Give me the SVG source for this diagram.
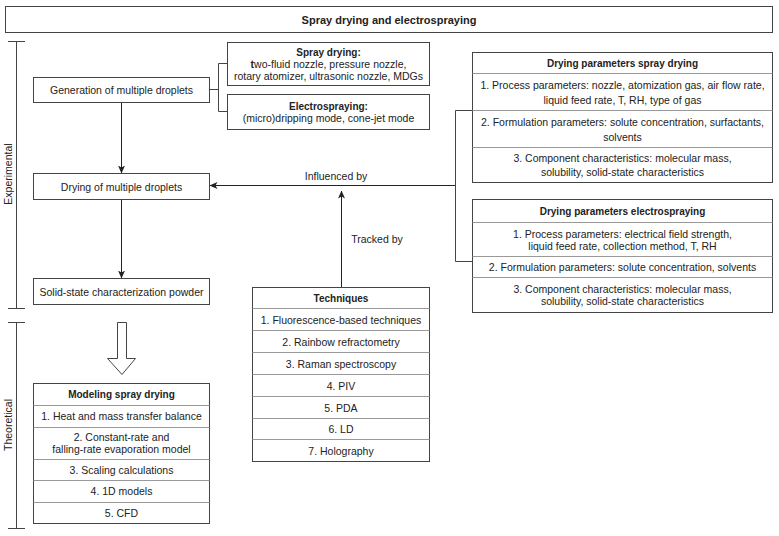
<svg xmlns="http://www.w3.org/2000/svg" width="779" height="536" viewBox="0 0 779 536">
<style>
text{font-family:"Liberation Sans",Arial,sans-serif;font-size:10.5px;fill:#222;text-anchor:middle;dominant-baseline:central}
.b{font-weight:bold;font-size:10px}
.t{font-weight:bold;font-size:11px}
.box{fill:#fff;stroke:#444;stroke-width:1}
.sep{stroke:#999;stroke-width:1;fill:none}
.ln{stroke:#222;stroke-width:1;fill:none}
.br{stroke:#444;stroke-width:1;fill:none}
</style>
<defs>
<marker id="ah" viewBox="0 0 8 8" refX="7.5" refY="4" markerWidth="8" markerHeight="8" markerUnits="userSpaceOnUse" orient="auto">
<path d="M0,0.5 L8,4 L0,7.5 L2,4 Z" fill="#222"/>
</marker>
</defs>
<rect width="779" height="536" fill="#fff"/>

<g id="title">
<rect class="box" x="5.5" y="6.5" width="767" height="26"/>
<text class="t" x="389" y="20">Spray drying and electrospraying</text>
</g>

<g id="experimental-bracket">
<path class="br" d="M16.5,41.5 V308.5 M8,41.5 H25 M8,308.5 H25"/>
<text transform="translate(8,174) rotate(-90)">Experimental</text>
</g>
<g id="theoretical-bracket">
<path class="br" d="M16.5,322.5 V528.5 M8,322.5 H25 M8,528.5 H25"/>
<text transform="translate(8,425) rotate(-90)">Theoretical</text>
</g>

<g id="connectors">
<path class="br" d="M209.5,89.5 H218.5 M218.5,63.5 V111.5 M218.5,63.5 H227.5 M218.5,111.5 H227.5"/>
<path class="ln" d="M121.5,102.5 V173" marker-end="url(#ah)"/>
<path class="ln" d="M121.5,199.5 V278" marker-end="url(#ah)"/>
<path class="ln" d="M455.5,185.5 H210" marker-end="url(#ah)"/>
<path class="br" d="M472.5,110.5 H455.5 V261.5 H472.5"/>
<path class="ln" d="M341.5,287 V191" marker-end="url(#ah)"/>
<text x="336" y="176">Influenced by</text>
<text x="377" y="239">Tracked by</text>
<path d="M117.5,322.5 H126.5 V358.5 H135.5 L122,374.5 L107.5,358.5 H117.5 Z" fill="#fff" stroke="#444" stroke-width="1"/>
</g>

<g id="generation">
<rect class="box" x="33.5" y="77.5" width="176" height="25"/>
<text x="121.5" y="90">Generation of multiple droplets</text>
</g>

<g id="spray-drying">
<rect class="box" x="227.5" y="42.5" width="202" height="43"/>
<text class="b" x="328.5" y="52">Spray drying:</text>
<text x="328.5" y="64"><tspan font-weight="bold">t</tspan>wo-fluid nozzle, pressure nozzle,</text>
<text x="328.5" y="76">rotary atomizer, ultrasonic nozzle, MDGs</text>
</g>

<g id="electrospraying">
<rect class="box" x="227.5" y="94.5" width="202" height="35"/>
<text class="b" x="328.5" y="106">Electrospraying:</text>
<text x="328.5" y="118">(micro)dripping mode, cone-jet mode</text>
</g>

<g id="drying">
<rect class="box" x="33.5" y="173.5" width="176" height="26"/>
<text x="121.5" y="186.5">Drying of multiple droplets</text>
</g>

<g id="solid-state">
<rect class="box" x="33.5" y="278.5" width="176" height="26"/>
<text x="121.5" y="291.5">Solid-state characterization powder</text>
</g>

<g id="params-spray">
<rect class="box" x="472.5" y="52.5" width="300" height="130"/>
<path class="sep" d="M472.5,73.5 H772.5 M472.5,110.5 H772.5 M472.5,147.5 H772.5"/>
<text class="b" x="622.5" y="63">Drying parameters spray drying</text>
<text x="622.5" y="85">1. Process parameters: nozzle, atomization gas, air flow rate,</text>
<text x="622.5" y="99.5">liquid feed rate, T, RH, type of gas</text>
<text x="622.5" y="122">2. Formulation parameters: solute concentration, surfactants,</text>
<text x="622.5" y="136.5">solvents</text>
<text x="622.5" y="157.5">3. Component characteristics: molecular mass,</text>
<text x="622.5" y="172">solubility, solid-state characteristics</text>
</g>

<g id="params-electro">
<rect class="box" x="472.5" y="199.5" width="300" height="113"/>
<path class="sep" d="M472.5,222.5 H772.5 M472.5,256.5 H772.5 M472.5,277.5 H772.5"/>
<text class="b" x="622.5" y="211">Drying parameters electrospraying</text>
<text x="622.5" y="233.5">1. Process parameters: electrical field strength,</text>
<text x="622.5" y="245.5">liquid feed rate, collection method, T, RH</text>
<text x="622.5" y="267">2. Formulation parameters: solute concentration, solvents</text>
<text x="622.5" y="289">3. Component characteristics: molecular mass,</text>
<text x="622.5" y="301">solubility, solid-state characteristics</text>
</g>

<g id="techniques">
<rect class="box" x="252.5" y="287.5" width="177" height="174"/>
<path class="sep" d="M252.5,308.5 H429.5 M252.5,330.5 H429.5 M252.5,352.5 H429.5 M252.5,374.5 H429.5 M252.5,396.5 H429.5 M252.5,418.5 H429.5 M252.5,439.5 H429.5"/>
<text class="b" x="341" y="298">Techniques</text>
<text x="341" y="319.5">1. Fluorescence-based techniques</text>
<text x="341" y="341.5">2. Rainbow refractometry</text>
<text x="341" y="363.5">3. Raman spectroscopy</text>
<text x="341" y="385.5">4. PIV</text>
<text x="341" y="407.5">5. PDA</text>
<text x="341" y="429">6. LD</text>
<text x="341" y="450.5">7. Holography</text>
</g>

<g id="modeling">
<rect class="box" x="33.5" y="383.5" width="176" height="140"/>
<path class="sep" d="M33.5,405.5 H209.5 M33.5,427.5 H209.5 M33.5,459.5 H209.5 M33.5,480.5 H209.5 M33.5,502.5 H209.5"/>
<text class="b" x="121.5" y="394">Modeling spray drying</text>
<text x="121.5" y="415.5">1. Heat and mass transfer balance</text>
<text x="121.5" y="437">2. Constant-rate and</text>
<text x="121.5" y="449">falling-rate evaporation model</text>
<text x="121.5" y="469.5">3. Scaling calculations</text>
<text x="121.5" y="491">4. 1D models</text>
<text x="121.5" y="512.5">5. CFD</text>
</g>
</svg>
